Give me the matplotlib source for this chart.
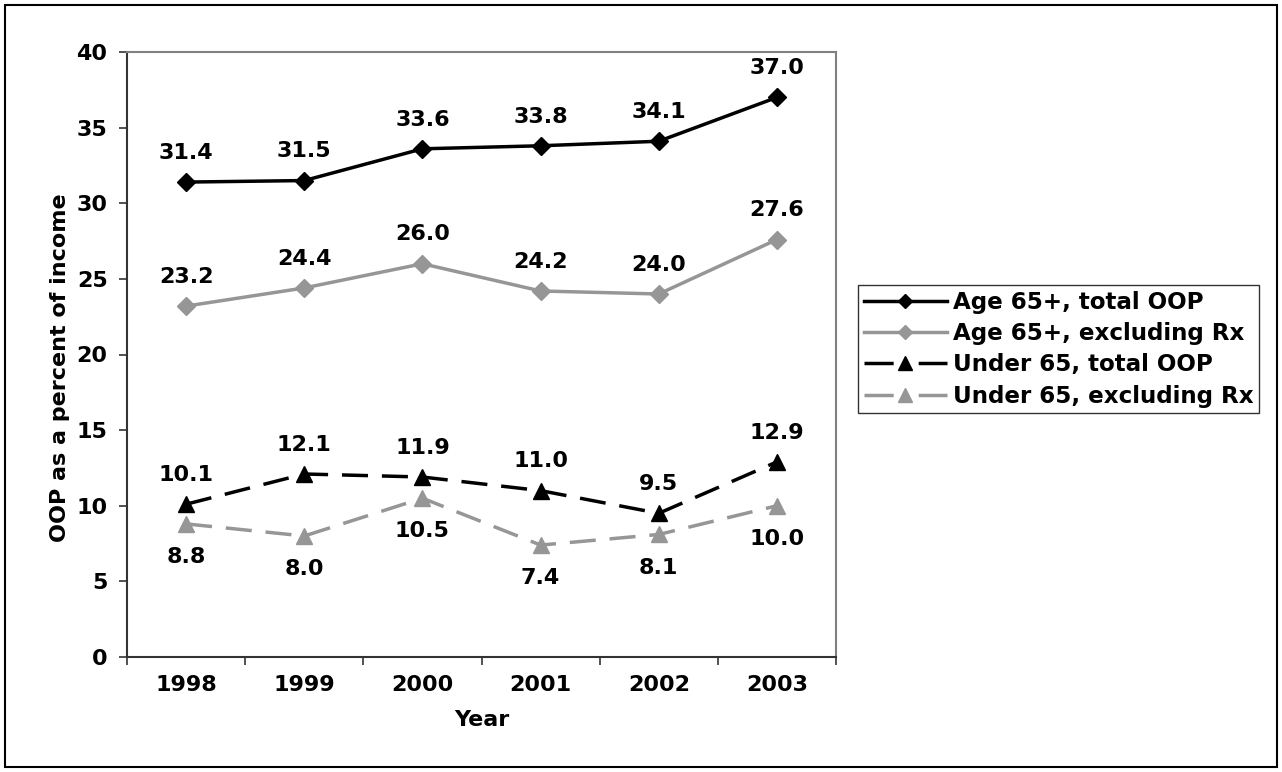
import matplotlib
matplotlib.use("Agg")
import matplotlib.pyplot as plt
from matplotlib.patches import Rectangle

years = ["1998", "1999", "2000", "2001", "2002", "2003"]
age65_total = [31.4, 31.5, 33.6, 33.8, 34.1, 37.0]
age65_excl = [23.2, 24.4, 26.0, 24.2, 24.0, 27.6]
under65_total = [10.1, 12.1, 11.9, 11.0, 9.5, 12.9]
under65_excl = [8.8, 8.0, 10.5, 7.4, 8.1, 10.0]
y_ticks = [0, 5, 10, 15, 20, 25, 30, 35, 40]

plt.rcParams["font.family"] = ["DejaVu Sans"]
plt.rcParams["font.weight"] = "bold"

FS = 16
LEG_FS = 16.6
W, H = 1282, 772
fig = plt.figure(figsize=(W / 100, H / 100), dpi=100)
ax = fig.add_axes([127 / W, 1 - 657 / H, (836 - 127) / W, (657 - 52) / H])

GRAY = "#969696"
DASH = (0, (7.5, 4))
x = [i + 0.5 for i in range(len(years))]

series = [
    (age65_total, "black", "-", "D", "Age 65+, total OOP", 1),
    (age65_excl, GRAY, "-", "D", "Age 65+, excluding Rx", 1),
    (under65_total, "black", DASH, "^", "Under 65, total OOP", 1),
    (under65_excl, GRAY, DASH, "^", "Under 65, excluding Rx", -1),
]

handles = []
for vals, col, ls, mk, lab, side in series:
    ms = 9 if mk == "D" else 12
    (h,) = ax.plot(x, vals, color=col, linestyle=ls, linewidth=2.5, marker=mk,
                   markersize=ms, markeredgecolor=col, markerfacecolor=col,
                   label=lab, clip_on=False, zorder=3)
    handles.append(h)
    for xi, v in zip(x, vals):
        ax.annotate(f"{v:.1f}", (xi, v), xytext=(0, 22.5 * side), textcoords="offset points",
                    ha="center", va="center_baseline", fontsize=FS, fontweight="bold")

ax.set_xlim(0, len(years))
ax.set_ylim(0, 40)
ax.set_yticks(y_ticks)
ax.set_yticklabels([str(t) for t in y_ticks], fontsize=FS, fontweight="bold")
ax.set_xticks(range(len(years) + 1))
ax.set_xticklabels([])
ax.set_xticks(x, minor=True)
ax.set_xticklabels(years, minor=True, fontsize=FS, fontweight="bold")
ax.tick_params(axis="x", which="minor", length=0, pad=13)
ax.tick_params(axis="x", which="major", length=6, width=1.2, direction="out", color="#333333")
ax.tick_params(axis="y", length=6, width=1.2, direction="out", color="#333333", pad=8)

for side in ("left", "bottom"):
    ax.spines[side].set_color("#333333")
    ax.spines[side].set_linewidth(1.5)
for side in ("top", "right"):
    ax.spines[side].set_color("#808080")
    ax.spines[side].set_linewidth(1.5)

ax.set_xlabel("Year", fontsize=FS, fontweight="bold")
ax.xaxis.set_label_coords(0.5, -(720 - 657) / (657 - 52), transform=ax.transAxes)
ax.xaxis.label.set_va("center")
ax.set_ylabel("OOP as a percent of income", fontsize=FS, fontweight="bold")
ax.yaxis.set_label_coords(-(127 - 60) / (836 - 127), (657 - 368) / (657 - 52), transform=ax.transAxes)
ax.yaxis.label.set_va("center")

leg = fig.legend(handles=handles, loc="upper left", bbox_to_anchor=(858 / W, 1 - 285 / H),
                 fontsize=LEG_FS, frameon=True, fancybox=False, handlelength=3.6,
                 handletextpad=0.25, borderpad=0.25, labelspacing=0.36, borderaxespad=0,
                 markerscale=0.8)
leg.get_frame().set_edgecolor("black")
leg.get_frame().set_linewidth(1.0)
for t in leg.get_texts():
    t.set_fontweight("bold")
# dashed legend keys: one dash on each side of the marker
for lh in leg.legend_handles[2:]:
    lh.set_linestyle((0, (8.4, 7.2)))

fig.patches.append(Rectangle((5 / W, 5 / H), (W - 10) / W, (H - 10) / H,
                             transform=fig.transFigure, fill=False,
                             edgecolor="black", linewidth=1.5))

fig.savefig("out.png", dpi=100)
